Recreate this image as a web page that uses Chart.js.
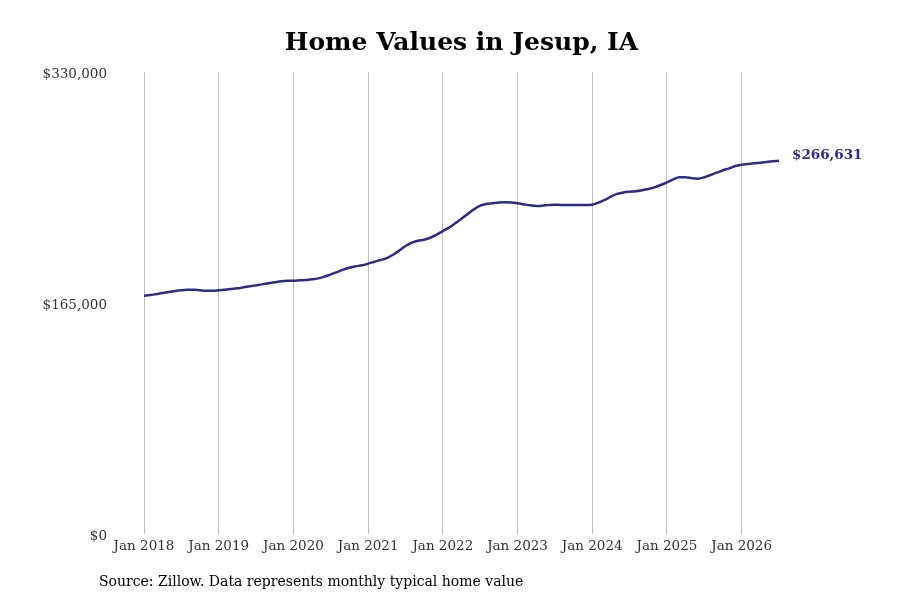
<!DOCTYPE html>
<html>
<head>
<meta charset="utf-8">
<title>Home Values in Jesup, IA</title>
<script src="https://cdn.jsdelivr.net/npm/chart.js@4.4.1/dist/chart.umd.min.js"></script>
<style>
  body { margin: 0; background: #fff; }
  canvas { display: block; }
</style>
</head>
<body>
<canvas id="homeChart" width="900" height="600"></canvas>
<script>
// monthly typical home value, Jan 2018 .. Jul 2026
const months = ['Jan', 'Feb', 'Mar', 'Apr', 'May', 'Jun', 'Jul', 'Aug', 'Sep', 'Oct', 'Nov', 'Dec'];
const years = [2018, 2019, 2020, 2021, 2022, 2023, 2024, 2025, 2026];
const homeValues = [
  170200, 170700, 171400, 172100, 172900, 173600, 174100, 174400, 174500, 174100, 173800, 173800,
  174100, 174500, 175000, 175500, 176200, 176900, 177600, 178300, 179100, 179800, 180500, 180900,
  180900, 181200, 181400, 181900, 182600, 183800, 185500, 187100, 188800, 190200, 191200, 191900,
  193100, 194500, 195700, 197100, 199500, 202400, 205700, 208100, 209500, 210200, 211600, 213800,
  216400, 218800, 221900, 225200, 228600, 231900, 234500, 235700, 236200, 236700, 236900, 236700,
  236200, 235500, 234800, 234300, 234500, 235000, 235200, 235000, 235000, 235000, 235000, 235000,
  235200, 236700, 238600, 240900, 242900, 244000, 244500, 244800, 245500, 246400, 247600, 249300,
  251200, 253300, 254800, 254800, 254100, 253800, 254800, 256400, 258100, 259800, 261200, 262900,
  263800, 264300, 264800, 265200, 265700, 266200, 266631
];
const yTicks = [0, 165000, 330000];

const labels = [];
years.forEach(y => months.forEach(m => labels.push(m + ' ' + y)));
labels.length = homeValues.length;

const lineColor = '#2e2c87';
const serif = "'DejaVu Serif', serif";

const money = v => '$' + v.toLocaleString('en-US');

// title, source note and end value label
const extras = {
  id: 'extras',
  afterDraw(chart) {
    const ctx = chart.ctx;
    const area = chart.chartArea;
    ctx.save();
    ctx.fillStyle = '#000';
    ctx.font = 'bold 25px ' + serif;
    ctx.textAlign = 'center';
    ctx.textBaseline = 'middle';
    ctx.fillText('Home Values in Jesup, IA', (area.left + area.right) / 2, 43);

    ctx.font = '14px ' + serif;
    ctx.textAlign = 'left';
    ctx.fillText('Source: Zillow. Data represents monthly typical home value', 99, 582);

    const meta = chart.getDatasetMeta(0);
    const last = meta.data[meta.data.length - 1];
    ctx.fillStyle = lineColor;
    ctx.font = 'bold 13.5px ' + serif;
    ctx.fillText(money(homeValues[homeValues.length - 1]), last.x + 13, last.y - 5);
    ctx.restore();
  }
};

new Chart(document.getElementById('homeChart'), {
  type: 'line',
  data: {
    labels: labels,
    datasets: [{
      data: homeValues,
      borderColor: lineColor,
      borderWidth: 2.5,
      pointRadius: 0,
      tension: 0.4,
      cubicInterpolationMode: 'monotone',
      fill: false
    }]
  },
  options: {
    responsive: false,
    animation: false,
    devicePixelRatio: 1,
    layout: { padding: { left: 0, top: 72, right: 121, bottom: 0 } },
    plugins: {
      legend: { display: false },
      title: { display: false },
      tooltip: { enabled: false }
    },
    scales: {
      x: {
        type: 'category',
        offset: false,
        border: { display: false },
        grid: { color: '#bdbdbd', lineWidth: 1, drawTicks: false },
        ticks: {
          autoSkip: false,
          maxRotation: 0,
          minRotation: 0,
          padding: 4,
          color: '#333',
          font: { family: serif, size: 13.5 },
          callback: function (value) {
            const lab = this.getLabelForValue(value);
            return lab.startsWith('Jan') ? lab : null;
          }
        },
        afterFit: scale => { scale.height = 66; }
      },
      y: {
        min: yTicks[0],
        max: yTicks[yTicks.length - 1],
        border: { display: false },
        grid: { display: false, drawTicks: false },
        afterBuildTicks: scale => { scale.ticks = yTicks.map(v => ({ value: v })); },
        ticks: {
          padding: 37,
          labelOffset: 2,
          color: '#333',
          font: { family: serif, size: 13.5 },
          callback: v => money(v)
        },
        afterFit: scale => { scale.width = 144; }
      }
    }
  },
  plugins: [extras]
});
</script>
</body>
</html>
